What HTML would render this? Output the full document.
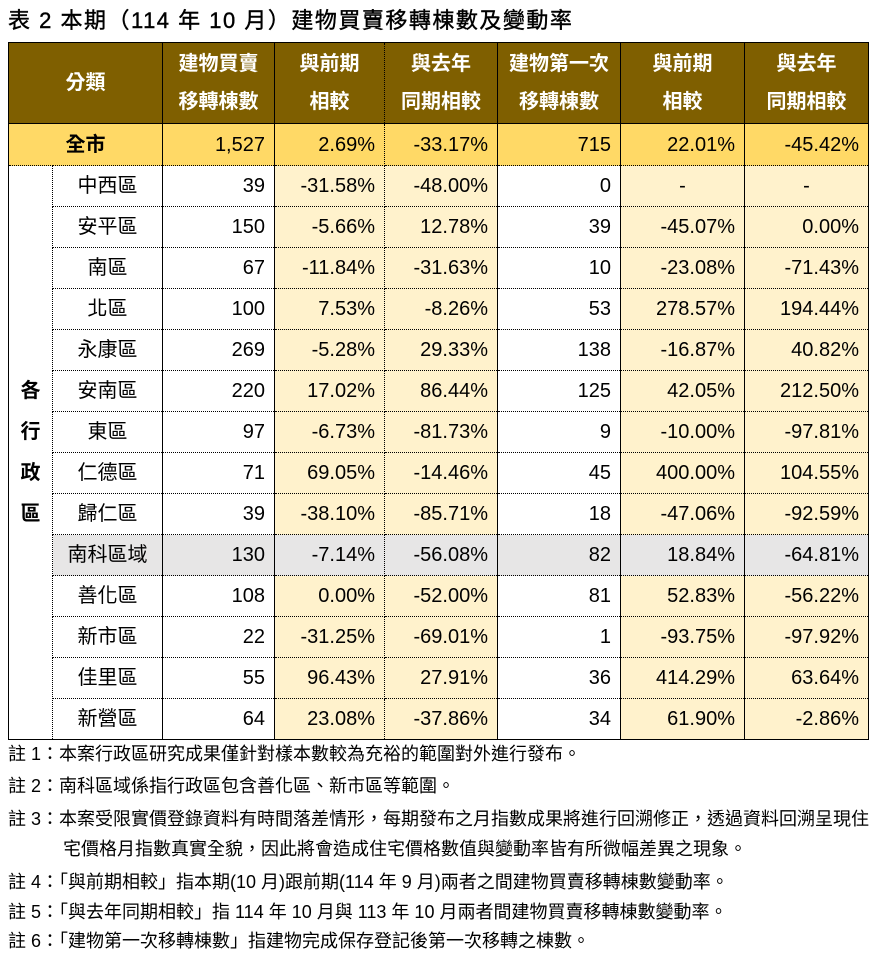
<!DOCTYPE html>
<html><head><meta charset="utf-8"><style>
body{margin:0;background:#fff;width:878px;height:962px;position:relative;overflow:hidden;font-family:"Liberation Sans","Noto Sans CJK TC",sans-serif;}
.title{position:absolute;left:8px;top:6px;font-size:22px;letter-spacing:1.5px;color:#000;white-space:nowrap;line-height:30px;-webkit-text-stroke:0.4px #000;}
table{position:absolute;left:8px;top:42px;border-collapse:collapse;table-layout:fixed;font-size:20px;color:#000;}
td{padding:0 9px 0 0;text-align:right;border-top:1px dotted #000;border-bottom:1px dotted #000;border-left:1px dotted #000;border-right:1px dotted #000;height:40px;white-space:nowrap;line-height:24px;}
tr.h td{background:#7f5f00;color:#fff;font-weight:bold;text-align:center;height:80px;line-height:38px;padding:0;border:1px solid #000;}
tr.all td{background:#ffd966;height:41px;border-top:1px solid #000;}
td.n{text-align:center;padding:0;}
.y{background:#fff2cc;}
tr.g td{background:#e7e6e6;}
.s{border-right:1px solid #000;}
td.side{text-align:center;padding:0;line-height:41px;font-weight:bold;border-right:1px dotted #000;border-left:1px solid #000;border-bottom:1px solid #000;}
tr.last td{border-bottom:1px solid #000;}
.note{position:absolute;left:8px;font-size:18px;white-space:nowrap;line-height:22px;transform-origin:left;}
</style></head><body>
<div class="title">表 2 本期（114 年 10 月）建物買賣移轉棟數及變動率</div>
<table>
<colgroup><col style="width:44px"><col style="width:110px"><col style="width:112px"><col style="width:110px"><col style="width:113px"><col style="width:123px"><col style="width:124px"><col style="width:124px"></colgroup>
<tr class="h"><td colspan="2">分類</td><td>建物買賣<br>移轉棟數</td><td style="border-right:1px dotted #000">與前期<br>相較</td><td style="border-left:1px dotted #000">與去年<br>同期相較</td><td>建物第一次<br>移轉棟數</td><td>與前期<br>相較</td><td>與去年<br>同期相較</td></tr>
<tr class="all"><td colspan="2" class="n s" style="font-weight:bold;border-left:1px solid #000">全市</td><td class="s">1,527</td><td>2.69%</td><td class="s">-33.17%</td><td class="s">715</td><td class="s">22.01%</td><td style="border-right:1px solid #000">-45.42%</td></tr>
<tr><td rowspan="14" class="side">各<br>行<br>政<br>區</td><td class="n s">中西區</td><td class="s">39</td><td class="y">-31.58%</td><td class="y s">-48.00%</td><td class="s">0</td><td class="y s n">-</td><td class="y n" style="border-right:1px solid #000">-</td></tr>
<tr><td class="n s">安平區</td><td class="s">150</td><td class="y">-5.66%</td><td class="y s">12.78%</td><td class="s">39</td><td class="y s">-45.07%</td><td class="y" style="border-right:1px solid #000">0.00%</td></tr>
<tr><td class="n s">南區</td><td class="s">67</td><td class="y">-11.84%</td><td class="y s">-31.63%</td><td class="s">10</td><td class="y s">-23.08%</td><td class="y" style="border-right:1px solid #000">-71.43%</td></tr>
<tr><td class="n s">北區</td><td class="s">100</td><td class="y">7.53%</td><td class="y s">-8.26%</td><td class="s">53</td><td class="y s">278.57%</td><td class="y" style="border-right:1px solid #000">194.44%</td></tr>
<tr><td class="n s">永康區</td><td class="s">269</td><td class="y">-5.28%</td><td class="y s">29.33%</td><td class="s">138</td><td class="y s">-16.87%</td><td class="y" style="border-right:1px solid #000">40.82%</td></tr>
<tr><td class="n s">安南區</td><td class="s">220</td><td class="y">17.02%</td><td class="y s">86.44%</td><td class="s">125</td><td class="y s">42.05%</td><td class="y" style="border-right:1px solid #000">212.50%</td></tr>
<tr><td class="n s">東區</td><td class="s">97</td><td class="y">-6.73%</td><td class="y s">-81.73%</td><td class="s">9</td><td class="y s">-10.00%</td><td class="y" style="border-right:1px solid #000">-97.81%</td></tr>
<tr><td class="n s">仁德區</td><td class="s">71</td><td class="y">69.05%</td><td class="y s">-14.46%</td><td class="s">45</td><td class="y s">400.00%</td><td class="y" style="border-right:1px solid #000">104.55%</td></tr>
<tr><td class="n s">歸仁區</td><td class="s">39</td><td class="y">-38.10%</td><td class="y s">-85.71%</td><td class="s">18</td><td class="y s">-47.06%</td><td class="y" style="border-right:1px solid #000">-92.59%</td></tr>
<tr class="g"><td class="n s">南科區域</td><td class="s">130</td><td>-7.14%</td><td class="s">-56.08%</td><td class="s">82</td><td class="s">18.84%</td><td style="border-right:1px solid #000">-64.81%</td></tr>
<tr><td class="n s">善化區</td><td class="s">108</td><td class="y">0.00%</td><td class="y s">-52.00%</td><td class="s">81</td><td class="y s">52.83%</td><td class="y" style="border-right:1px solid #000">-56.22%</td></tr>
<tr><td class="n s">新市區</td><td class="s">22</td><td class="y">-31.25%</td><td class="y s">-69.01%</td><td class="s">1</td><td class="y s">-93.75%</td><td class="y" style="border-right:1px solid #000">-97.92%</td></tr>
<tr><td class="n s">佳里區</td><td class="s">55</td><td class="y">96.43%</td><td class="y s">27.91%</td><td class="s">36</td><td class="y s">414.29%</td><td class="y" style="border-right:1px solid #000">63.64%</td></tr>
<tr class="last"><td class="n s">新營區</td><td class="s">64</td><td class="y">23.08%</td><td class="y s">-37.86%</td><td class="s">34</td><td class="y s">61.90%</td><td class="y" style="border-right:1px solid #000">-2.86%</td></tr>
</table>
<div class="note" style="top:743px">註 1：本案行政區研究成果僅針對樣本數較為充裕的範圍對外進行發布。</div>
<div class="note" style="top:775px">註 2：南科區域係指行政區包含善化區、新市區等範圍。</div>
<div class="note" style="top:808px;transform:scaleX(1.0)">註 3：本案受限實價登錄資料有時間落差情形，每期發布之月指數成果將進行回溯修正，透過資料回溯呈現住</div>
<div class="note" style="top:838px;left:63px">宅價格月指數真實全貌，因此將會造成住宅價格數值與變動率皆有所微幅差異之現象。</div>
<div class="note" style="top:871px">註 4：「與前期相較」指本期(10 月)跟前期(114 年 9 月)兩者之間建物買賣移轉棟數變動率。</div>
<div class="note" style="top:901px">註 5：「與去年同期相較」指 114 年 10 月與 113 年 10 月兩者間建物買賣移轉棟數變動率。</div>
<div class="note" style="top:930px">註 6：「建物第一次移轉棟數」指建物完成保存登記後第一次移轉之棟數。</div>
</body></html>
